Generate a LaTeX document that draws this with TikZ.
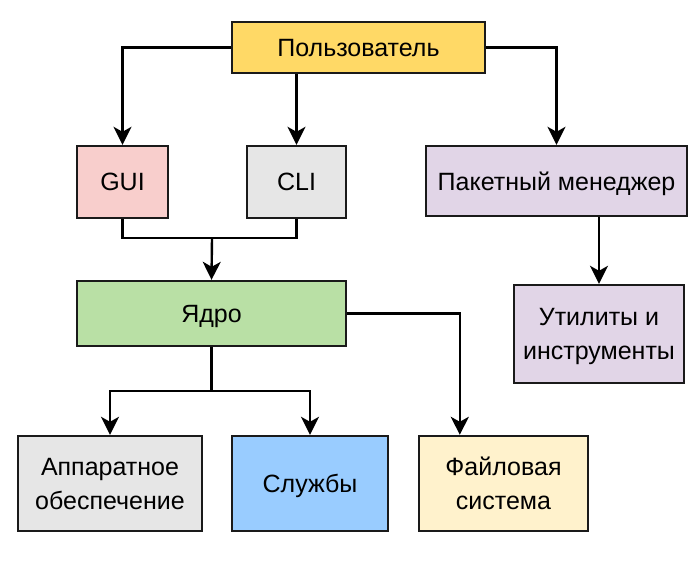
\documentclass[tikz,border=0pt]{standalone}
\usepackage{fontspec}
\setmainfont{Liberation Sans}
\usetikzlibrary{arrows.meta,calc}
\definecolor{cuser}{HTML}{FFD966}
\definecolor{cgui}{HTML}{F8CECC}
\definecolor{cgray}{HTML}{E6E6E6}
\definecolor{cpurple}{HTML}{E1D5E7}
\definecolor{cgreen}{HTML}{B9E0A5}
\definecolor{cblue}{HTML}{99CCFF}
\definecolor{cfs}{HTML}{FFF2CC}
\definecolor{cline}{HTML}{1A1A1A}
\begin{document}
\begin{tikzpicture}[x=1pt,y=-1pt,
  box/.style={draw=cline,line width=2.4pt,inner sep=0pt,align=center,text depth=0pt,
    font=\fontsize{25}{34}\selectfont,text=black},
  conn/.style={draw=black,line width=2.4pt,-{Stealth[length=18pt,width=18pt,inset=5pt]}},
  plain/.style={draw=black,line width=2.4pt}]
\useasboundingbox (0,0) rectangle (700,560);
\node[box,fill=cuser,minimum width=253pt,minimum height=51pt] (user) at (358.5,47.5) {Пользователь};
\node[box,fill=cgui,minimum width=91pt,minimum height=72pt] (gui) at (122.5,182) {GUI};
\node[box,fill=cgray,minimum width=99pt,minimum height=72pt] (cli) at (296.5,182) {CLI};
\node[box,fill=cpurple,minimum width=261pt,minimum height=70pt] (pm) at (556.5,181) {Пакетный менеджер};
\node[box,fill=cgreen,minimum width=269pt,minimum height=65pt] (core) at (211.5,313.5) {Ядро};
\node[box,fill=cpurple,minimum width=170pt,minimum height=98pt] (util) at (599,334) {Утилиты и\\инструменты};
\node[box,fill=cgray,minimum width=184pt,minimum height=95pt] (hw) at (110,483.5) {Аппаратное\\обеспечение};
\node[box,fill=cblue,minimum width=156pt,minimum height=95pt] (svc) at (310,483.5) {Службы};
\node[box,fill=cfs,minimum width=169pt,minimum height=95pt] (fs) at (503.5,483.5) {Файловая\\система};
\coordinate (fsin) at ($(fs.north west)+(42,0)$);
\coordinate (merge) at (212,238);
\coordinate (split) at (211.5,391);
% connectors
\draw[conn] (user.west) -| (gui.north);
\draw[conn] (cli.north |- user.south) -- (cli.north);
\draw[conn] (user.east) -| (pm.north);
\draw[conn] (util.north |- pm.south) -- (util.north);
\draw[plain] (gui.south) |- (merge);
\draw[plain] (cli.south) |- (merge);
\draw[conn] (merge) -- (core.north);
\draw[plain] (core.south) -- (split);
\draw[conn] (split) -| (hw.north);
\draw[conn] (split) -| (svc.north);
\draw[conn] (core.east) -| (fsin);
\end{tikzpicture}
\end{document}
